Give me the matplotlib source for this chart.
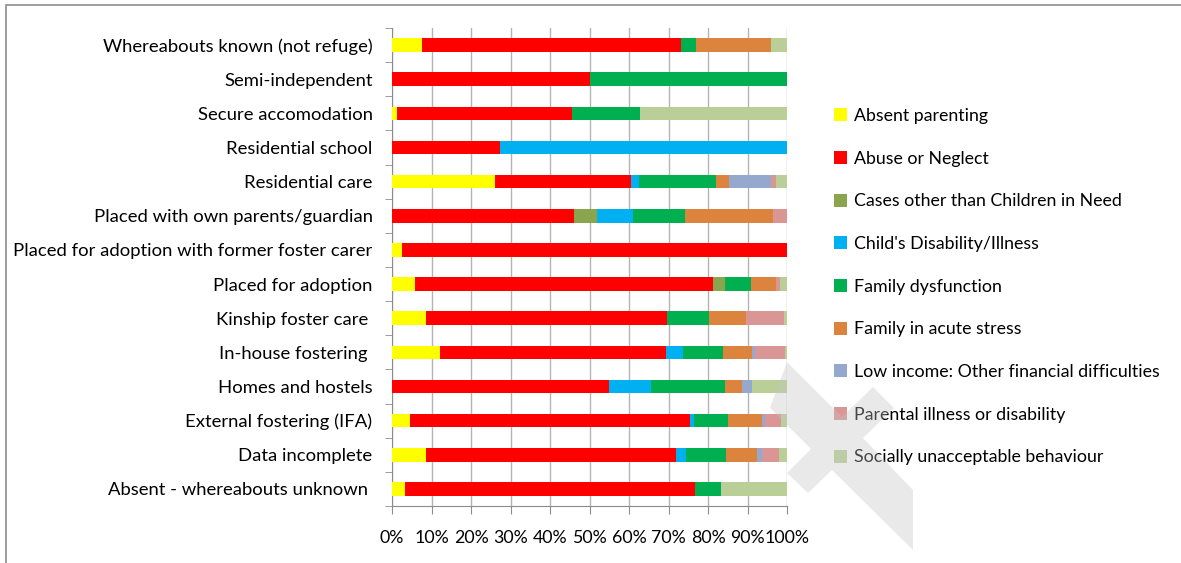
import numpy as np
import matplotlib
matplotlib.use('Agg')
import matplotlib.pyplot as plt
from matplotlib.patches import Rectangle, Patch, Polygon

plt.rcParams['font.family'] = ['Lato', 'DejaVu Sans']

categories = ["Whereabouts known (not refuge)", "Semi-independent", "Secure accomodation",
              "Residential school", "Residential care", "Placed with own parents/guardian",
              "Placed for adoption with former foster carer", "Placed for adoption",
              "Kinship foster care ", "In-house fostering ", "Homes and hostels",
              "External fostering (IFA)", "Data incomplete", "Absent - whereabouts unknown "]

absent_parenting = [7.7, 0, 1.2, 0, 26.0, 0, 2.5, 5.9, 8.7, 12.1, 0, 4.6, 8.5, 3.2]
abuse_neglect = [65.5, 50, 44.4, 27.3, 34.4, 46.2, 97.5, 75.4, 61.0, 57.3, 54.9, 70.9, 63.4, 73.6]
cases_other = [0, 0, 0, 0, 0, 5.7, 0, 3.0, 0, 0, 0, 0, 0, 0]
child_disability = [0, 0, 0, 72.7, 2.0, 9.1, 0, 0, 0, 4.2, 10.6, 1.0, 2.5, 0]
family_dysfunction = [3.8, 50, 17.2, 0, 19.5, 13.1, 0, 6.6, 10.6, 10.1, 18.8, 8.5, 10.1, 6.5]
acute_stress = [19.2, 0, 0, 0, 3.4, 22.3, 0, 6.2, 9.3, 7.5, 4.3, 8.7, 7.8, 0]
low_income = [0, 0, 0, 0, 10.6, 0, 0, 0, 0, 0.8, 2.5, 0.7, 1.4, 0]
parental_illness = [0, 0, 0, 0, 1.3, 3.6, 0, 1.1, 9.6, 7.4, 0, 4.2, 4.4, 0]
socially_unacceptable = [4.0, 0, 37.2, 0, 2.7, 0, 0, 1.7, 0.8, 0.6, 8.9, 1.4, 1.9, 16.7]

series = [
    ("Absent parenting", absent_parenting, "#FFFF00"),
    ("Abuse or Neglect", abuse_neglect, "#FF0000"),
    ("Cases other than Children in Need", cases_other, "#8BA54E"),
    ("Child's Disability/Illness", child_disability, "#00B0F0"),
    ("Family dysfunction", family_dysfunction, "#00B050"),
    ("Family in acute stress", acute_stress, "#DC843E"),
    ("Low income: Other financial difficulties", low_income, "#95A9CF"),
    ("Parental illness or disability", parental_illness, "#D99694"),
    ("Socially unacceptable behaviour", socially_unacceptable, "#BACF97"),
]

W, H = 1181, 563
fig = plt.figure(figsize=(W / 100, H / 100), dpi=100)
ax = fig.add_axes([392 / W, 1 - 506 / H, (787 - 392) / W, (506 - 28) / H])

# outer frame (cropped on right/bottom)
fig.add_artist(Rectangle((6 / W, -0.05), 1.1, 1 - 5 / H + 0.05, transform=fig.transFigure,
                         fill=False, edgecolor='#8c8c8c', linewidth=1.2))

data = np.array([s[1] for s in series], dtype=float)
totals = data.sum(axis=0)
pct = data / totals * 100

y = np.arange(len(categories))[::-1]
left = np.zeros(len(categories))
for (name, vals, col), p in zip(series, pct):
    ax.barh(y, p, left=left, height=0.4, color=col, label=name, zorder=3)
    left += p

ax.set_xlim(0, 100)
ax.set_ylim(-0.5, len(categories) - 0.5)
ax.set_xticks(np.arange(0, 101, 10))
ax.set_xticklabels([f"{v}%" for v in range(0, 101, 10)], fontsize=12.8)
ax.xaxis.grid(True, color='#b4b4b4', linewidth=1, zorder=0)
ax.set_yticks(y)
ax.set_yticklabels(categories, fontsize=13.3)
ax.set_yticks(np.arange(-0.5, len(categories), 1), minor=True)
ax.tick_params(axis='y', which='major', length=0, pad=14)
ax.tick_params(axis='y', which='minor', length=5, color='#8c8c8c', direction='out')
ax.tick_params(axis='x', length=6, color='#8c8c8c', direction='out', pad=11)

for s in ['top', 'right']:
    ax.spines[s].set_visible(False)
for s in ['left', 'bottom']:
    ax.spines[s].set_color('#8c8c8c')

handles = [Patch(facecolor=c, edgecolor='none') for _, _, c in series]
fig.legend(handles, [s[0] for s in series], loc='upper left',
           bbox_to_anchor=(818 / W, 1 - 92 / H), frameon=False, fontsize=12.8,
           handlelength=0.75, handleheight=0.75, handletextpad=0.4, labelspacing=1.5)

# faint watermark cross in the lower right (pixel outline, top-left origin)
wm = [(787, 362), (842, 417), (873, 387), (894, 408), (863, 438), (913, 490),
      (913, 550), (832, 470), (808, 493), (787, 473), (811, 449), (770, 408)]
fig.add_artist(Polygon([(px / W, 1 - py / H) for px, py in wm], closed=True,
                       transform=fig.transFigure, facecolor='#c4c4c4', edgecolor='none',
                       alpha=0.36, zorder=10))

plt.savefig("out.png", dpi=100)
